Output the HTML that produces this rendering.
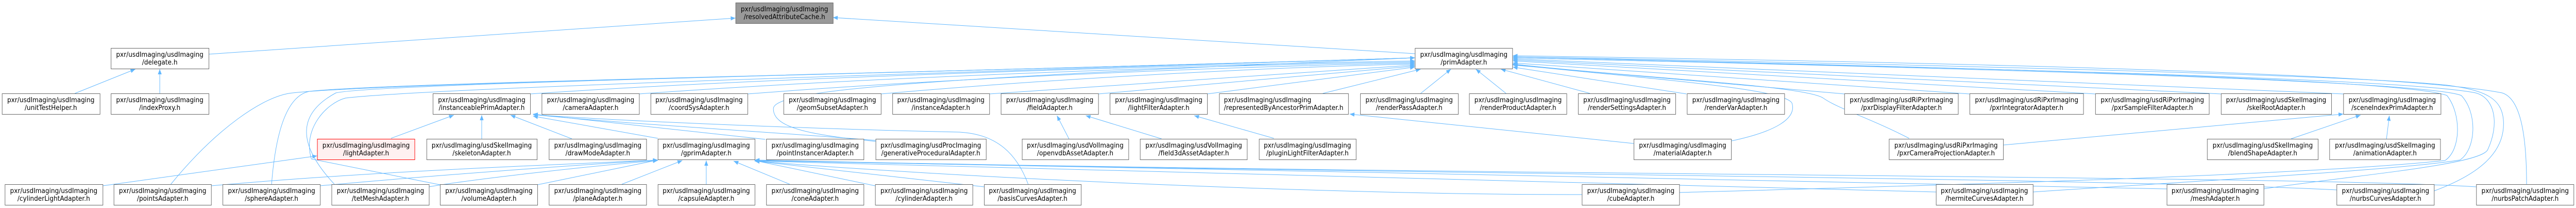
<!DOCTYPE html>
<html><head><meta charset="utf-8"><style>
html,body{margin:0;padding:0;background:#fff;width:100%;height:100%;overflow:hidden;}
svg{display:block;position:absolute;left:0;top:0;width:100vw;height:100vh;}
text{font-family:"DejaVu Sans","Liberation Sans",sans-serif;font-size:13px;fill:#000;}
.b{fill:#fff;stroke:#666;stroke-width:1;}
.e{fill:none;stroke:#63b8ff;stroke-width:1;}
</style></head><body>
<svg viewBox="0 0 5369 403" preserveAspectRatio="none" xmlns="http://www.w3.org/2000/svg">
<defs><marker id="a" markerUnits="userSpaceOnUse" markerWidth="11" markerHeight="8" refX="10" refY="4" orient="auto"><path d="M0,0 L10,4 L0,8 z" fill="#63b8ff"/></marker></defs>
<g class="e" marker-end="url(#a)">
<path d="M435,105 L1533,35"/>
<path d="M2949,104 L1736,34"/>
<path d="M156,181 L282,134"/>
<path d="M333,181 L333,134"/>
<path d="M1105,182 C1600,150 2500,125 2949,118"/>
<path d="M1332,182 C1800,150 2500,127 2949,120"/>
<path d="M1558,182 C2000,150 2600,128 2949,122"/>
<path d="M1836,182 C2200,152 2650,130 2949,124"/>
<path d="M2062,182 L2949,126"/>
<path d="M2289,182 L2949,128"/>
<path d="M2516,182 L2949,130"/>
<path d="M2757,181 L2961,134"/>
<path d="M2961,181 L3024,134"/>
<path d="M3139,181 L3076,134"/>
<path d="M3314,181 L3128,134"/>
<path d="M3515,182 L3153,130"/>
<path d="M3844,182 L3153,126"/>
<path d="M4105,182 L3153,122"/>
<path d="M4367,182 L3153,118"/>
<path d="M4629,182 L3153,116"/>
<path d="M4884,182 L3153,114"/>
<path d="M4718,366 C4900,340 5170,320 5185,290 C5210,240 5200,190 5160,180 C5000,150 4000,130 3153,112"/>
<path d="M5073,370 C5160,340 5218,300 5218,240 C5218,190 5180,175 5100,165 C4900,145 4000,125 3153,110"/>
<path d="M5266,357 C5266,250 5250,190 5215,180 C5000,140 4000,120 3153,108"/>
<path d="M3500,373 C4000,360 4800,340 5096,311 C5130,290 5130,220 5100,185 C5000,150 4000,130 3153,110"/>
<path d="M4237,372 C4500,355 5000,330 5127,310 C5160,290 5165,220 5130,185 C5050,155 4000,130 3153,112"/>
<path d="M5161,362 C4800,340 3000,340 1573,310"/>
<path d="M4516,366 C4000,350 2500,330 1573,311"/>
<path d="M4871,368 C4400,345 2800,335 1573,311"/>
<path d="M4035,372 C3600,360 2600,335 1573,312"/>
<path d="M3297,377 C2800,378 2000,345 1573,312"/>
<path d="M2051,362 L1573,312"/>
<path d="M1824,360 L1573,311"/>
<path d="M1120,358 L1371,310"/>
<path d="M1296,357 L1422,311"/>
<path d="M1472,357 L1472,311"/>
<path d="M1646,357 L1529,312"/>
<path d="M440,360 C800,330 1200,318 1371,310"/>
<path d="M667,360 C900,340 1200,320 1371,310"/>
<path d="M894,362 C1000,345 1250,320 1371,311"/>
<path d="M356,357 C450,250 550,185 610,180 C800,160 2000,140 2949,112"/>
<path d="M566,357 C575,250 600,185 645,177 C800,160 2000,140 2949,112"/>
<path d="M697,357 C640,300 600,230 700,180 C800,160 2000,140 2949,112"/>
<path d="M917,358 L649,308 C630,250 680,200 720,190 C900,170 2000,140 2949,112"/>
<path d="M214,360 L661,302"/>
<path d="M815,268 L946,223"/>
<path d="M1004,269 L1004,223"/>
<path d="M1192,269 L1064,223"/>
<path d="M1371,268 L1111,225"/>
<path d="M1595,270 L1111,221"/>
<path d="M1825,272 C1600,255 1300,240 1111,222"/>
<path d="M2143,357 C2120,300 2080,260 2000,256 C1700,250 1300,235 1111,222"/>
<path d="M1825,274 C1700,262 1610,250 1612,210 C1615,170 2000,150 2949,112"/>
<path d="M2228,269 L2203,224"/>
<path d="M2421,269 L2263,224"/>
<path d="M2655,268 L2489,224"/>
<path d="M3405,278 L2813,221"/>
<path d="M3609,273 C3700,255 3745,230 3735,200 C3720,170 3400,150 3153,125"/>
<path d="M3979,268 C3900,230 3830,210 3800,190 C3760,165 3400,150 3153,124"/>
<path d="M4175,281 L4884,221"/>
<path d="M4775,269 L4920,223"/>
<path d="M4974,269 L4980,224"/>
</g>
<g text-anchor="middle">
<rect x="1533.5" y="5.5" width="203" height="40" fill="#999" stroke="#666"/><text x="1635" y="22">pxr/usdImaging/usdImaging</text><text x="1635" y="37">/resolvedAttributeCache.h</text>
<rect class="b" x="231.5" y="93.5" width="204" height="40"/><text x="333" y="110">pxr/usdImaging/usdImaging</text><text x="333" y="125">/delegate.h</text>
<rect class="b" x="2949.5" y="93.5" width="203" height="40"/><text x="3051" y="110">pxr/usdImaging/usdImaging</text><text x="3051" y="125">/primAdapter.h</text>
<rect class="b" x="4.5" y="181.5" width="204" height="40"/><text x="106" y="198">pxr/usdImaging/usdImaging</text><text x="106" y="213">/unitTestHelper.h</text>
<rect class="b" x="231.5" y="181.5" width="204" height="40"/><text x="333" y="198">pxr/usdImaging/usdImaging</text><text x="333" y="213">/indexProxy.h</text>
<rect class="b" x="902.5" y="181.5" width="203" height="40"/><text x="1004" y="198">pxr/usdImaging/usdImaging</text><text x="1004" y="213">/instanceablePrimAdapter.h</text>
<rect class="b" x="1129.5" y="181.5" width="203" height="40"/><text x="1231" y="198">pxr/usdImaging/usdImaging</text><text x="1231" y="213">/cameraAdapter.h</text>
<rect class="b" x="1356.5" y="181.5" width="202" height="40"/><text x="1457" y="198">pxr/usdImaging/usdImaging</text><text x="1457" y="213">/coordSysAdapter.h</text>
<rect class="b" x="1633.5" y="181.5" width="203" height="40"/><text x="1735" y="198">pxr/usdImaging/usdImaging</text><text x="1735" y="213">/geomSubsetAdapter.h</text>
<rect class="b" x="1860.5" y="181.5" width="202" height="40"/><text x="1961" y="198">pxr/usdImaging/usdImaging</text><text x="1961" y="213">/instanceAdapter.h</text>
<rect class="b" x="2086.5" y="181.5" width="203" height="40"/><text x="2188" y="198">pxr/usdImaging/usdImaging</text><text x="2188" y="213">/fieldAdapter.h</text>
<rect class="b" x="2313.5" y="181.5" width="203" height="40"/><text x="2415" y="198">pxr/usdImaging/usdImaging</text><text x="2415" y="213">/lightFilterAdapter.h</text>
<rect class="b" x="2541.5" y="181.5" width="269" height="40"/><text x="2551" y="198" text-anchor="start">pxr/usdImaging/usdImaging</text><text x="2551" y="213" text-anchor="start">/representedByAncestorPrimAdapter.h</text>
<rect class="b" x="2835.5" y="181.5" width="204" height="40"/><text x="2937" y="198">pxr/usdImaging/usdImaging</text><text x="2937" y="213">/renderPassAdapter.h</text>
<rect class="b" x="3062.5" y="181.5" width="203" height="40"/><text x="3164" y="198">pxr/usdImaging/usdImaging</text><text x="3164" y="213">/renderProductAdapter.h</text>
<rect class="b" x="3289.5" y="181.5" width="203" height="40"/><text x="3391" y="198">pxr/usdImaging/usdImaging</text><text x="3391" y="213">/renderSettingsAdapter.h</text>
<rect class="b" x="3516.5" y="181.5" width="203" height="40"/><text x="3618" y="198">pxr/usdImaging/usdImaging</text><text x="3618" y="213">/renderVarAdapter.h</text>
<rect class="b" x="3844.5" y="181.5" width="237" height="40"/><text x="3963" y="198">pxr/usdImaging/usdRiPxrImaging</text><text x="3963" y="213">/pxrDisplayFilterAdapter.h</text>
<rect class="b" x="4105.5" y="181.5" width="237" height="40"/><text x="4224" y="198">pxr/usdImaging/usdRiPxrImaging</text><text x="4224" y="213">/pxrIntegratorAdapter.h</text>
<rect class="b" x="4367.5" y="181.5" width="237" height="40"/><text x="4486" y="198">pxr/usdImaging/usdRiPxrImaging</text><text x="4486" y="213">/pxrSampleFilterAdapter.h</text>
<rect class="b" x="4629.5" y="181.5" width="230" height="40"/><text x="4744" y="198">pxr/usdImaging/usdSkelImaging</text><text x="4744" y="213">/skelRootAdapter.h</text>
<rect class="b" x="4884.5" y="181.5" width="203" height="40"/><text x="4986" y="198">pxr/usdImaging/usdImaging</text><text x="4986" y="213">/sceneIndexPrimAdapter.h</text>
<rect x="661.5" y="269.5" width="203" height="40" fill="#fff0f0" stroke="#f00"/><text x="763" y="286">pxr/usdImaging/usdImaging</text><text x="763" y="301">/lightAdapter.h</text>
<rect class="b" x="889.5" y="269.5" width="230" height="40"/><text x="1004" y="286">pxr/usdImaging/usdSkelImaging</text><text x="1004" y="301">/skeletonAdapter.h</text>
<rect class="b" x="1144.5" y="269.5" width="203" height="40"/><text x="1246" y="286">pxr/usdImaging/usdImaging</text><text x="1246" y="301">/drawModeAdapter.h</text>
<rect class="b" x="1371.5" y="269.5" width="202" height="40"/><text x="1472" y="286">pxr/usdImaging/usdImaging</text><text x="1472" y="301">/gprimAdapter.h</text>
<rect class="b" x="1597.5" y="269.5" width="203" height="40"/><text x="1699" y="286">pxr/usdImaging/usdImaging</text><text x="1699" y="301">/pointInstancerAdapter.h</text>
<rect class="b" x="1825.5" y="269.5" width="230" height="40"/><text x="1940" y="286">pxr/usdImaging/usdProcImaging</text><text x="1940" y="301">/generativeProceduralAdapter.h</text>
<rect class="b" x="2130.5" y="269.5" width="222" height="40"/><text x="2241" y="286">pxr/usdImaging/usdVolImaging</text><text x="2241" y="301">/openvdbAssetAdapter.h</text>
<rect class="b" x="2376.5" y="269.5" width="223" height="40"/><text x="2488" y="286">pxr/usdImaging/usdVolImaging</text><text x="2488" y="301">/field3dAssetAdapter.h</text>
<rect class="b" x="2624.5" y="269.5" width="202" height="40"/><text x="2725" y="286">pxr/usdImaging/usdImaging</text><text x="2725" y="301">/pluginLightFilterAdapter.h</text>
<rect class="b" x="3405.5" y="269.5" width="203" height="40"/><text x="3507" y="286">pxr/usdImaging/usdImaging</text><text x="3507" y="301">/materialAdapter.h</text>
<rect class="b" x="3937.5" y="269.5" width="238" height="40"/><text x="4056" y="286">pxr/usdImaging/usdRiPxrImaging</text><text x="4056" y="301">/pxrCameraProjectionAdapter.h</text>
<rect class="b" x="4600.5" y="269.5" width="231" height="40"/><text x="4716" y="286">pxr/usdImaging/usdSkelImaging</text><text x="4716" y="301">/blendShapeAdapter.h</text>
<rect class="b" x="4855.5" y="269.5" width="231" height="40"/><text x="4971" y="286">pxr/usdImaging/usdSkelImaging</text><text x="4971" y="301">/animationAdapter.h</text>
<rect class="b" x="10.5" y="357.5" width="204" height="40"/><text x="112" y="374">pxr/usdImaging/usdImaging</text><text x="112" y="389">/cylinderLightAdapter.h</text>
<rect class="b" x="237.5" y="357.5" width="203" height="40"/><text x="339" y="374">pxr/usdImaging/usdImaging</text><text x="339" y="389">/pointsAdapter.h</text>
<rect class="b" x="464.5" y="357.5" width="203" height="40"/><text x="566" y="374">pxr/usdImaging/usdImaging</text><text x="566" y="389">/sphereAdapter.h</text>
<rect class="b" x="691.5" y="357.5" width="203" height="40"/><text x="793" y="374">pxr/usdImaging/usdImaging</text><text x="793" y="389">/tetMeshAdapter.h</text>
<rect class="b" x="917.5" y="357.5" width="203" height="40"/><text x="1019" y="374">pxr/usdImaging/usdImaging</text><text x="1019" y="389">/volumeAdapter.h</text>
<rect class="b" x="1144.5" y="357.5" width="203" height="40"/><text x="1246" y="374">pxr/usdImaging/usdImaging</text><text x="1246" y="389">/planeAdapter.h</text>
<rect class="b" x="1371.5" y="357.5" width="202" height="40"/><text x="1472" y="374">pxr/usdImaging/usdImaging</text><text x="1472" y="389">/capsuleAdapter.h</text>
<rect class="b" x="1597.5" y="357.5" width="203" height="40"/><text x="1699" y="374">pxr/usdImaging/usdImaging</text><text x="1699" y="389">/coneAdapter.h</text>
<rect class="b" x="1824.5" y="357.5" width="203" height="40"/><text x="1926" y="374">pxr/usdImaging/usdImaging</text><text x="1926" y="389">/cylinderAdapter.h</text>
<rect class="b" x="2051.5" y="357.5" width="202" height="40"/><text x="2152" y="374">pxr/usdImaging/usdImaging</text><text x="2152" y="389">/basisCurvesAdapter.h</text>
<rect class="b" x="3297.5" y="357.5" width="203" height="40"/><text x="3399" y="374">pxr/usdImaging/usdImaging</text><text x="3399" y="389">/cubeAdapter.h</text>
<rect class="b" x="4035.5" y="357.5" width="202" height="40"/><text x="4136" y="374">pxr/usdImaging/usdImaging</text><text x="4136" y="389">/hermiteCurvesAdapter.h</text>
<rect class="b" x="4516.5" y="357.5" width="202" height="40"/><text x="4617" y="374">pxr/usdImaging/usdImaging</text><text x="4617" y="389">/meshAdapter.h</text>
<rect class="b" x="4870.5" y="357.5" width="203" height="40"/><text x="4972" y="374">pxr/usdImaging/usdImaging</text><text x="4972" y="389">/nurbsCurvesAdapter.h</text>
<rect class="b" x="5161.5" y="357.5" width="203" height="40"/><text x="5263" y="374">pxr/usdImaging/usdImaging</text><text x="5263" y="389">/nurbsPatchAdapter.h</text>
</g>
</svg>
</body></html>
